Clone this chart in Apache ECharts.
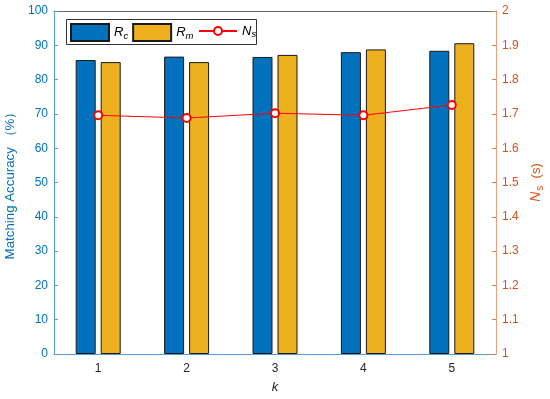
<!DOCTYPE html>
<html><head><meta charset="utf-8">
<script src="https://cdn.jsdelivr.net/npm/echarts@6/dist/echarts.min.js"></script>
<style>html,body{margin:0;padding:0;background:#fff}#c{width:550px;height:399px}</style>
</head><body><div id="c"></div>
<script>
const categories = ['1','2','3','4','5'];
const rc = [85.7, 86.7, 86.6, 88.0, 88.4];
const rm = [85.1, 85.1, 87.2, 88.8, 90.6];
const ns = [1.696, 1.688, 1.702, 1.696, 1.726];
const leftTicks = {min: 0, max: 100, interval: 10};
const rightTicks = {min: 1, max: 2, interval: 0.1};

const FONT = '"Liberation Sans", Arial, sans-serif';
const chart = echarts.init(document.getElementById('c'), null, {renderer: 'canvas'});
const legendRich = {
  i: {fontStyle: 'italic', fontSize: 13, fontFamily: FONT, color: '#000'},
  s: {fontStyle: 'italic', fontSize: 9.5, fontFamily: FONT, color: '#000', padding: [7, 0, 0, 0]}
};
const fmt = function (n) { return '{i|' + n[0] + '}{s|' + n.slice(1) + '}'; };
chart.setOption({
  animation: false,
  grid: {left: 54, right: 54, top: 11, bottom: 45, containLabel: false, outerBoundsMode: 'none'},
  graphic: [{
    type: 'rect', left: 66, top: 19, z: 90,
    shape: {width: 190, height: 25},
    style: {fill: '#fff', stroke: '#333', lineWidth: 1}
  }],
  legend: [{
    left: 70, top: 23, orient: 'horizontal', z: 100,
    itemWidth: 38, itemHeight: 17, itemGap: 4, padding: 0,
    icon: 'rect',
    data: ['Rc', 'Rm'],
    formatter: fmt,
    textStyle: {rich: legendRich}
  }, {
    left: 198, top: 24.5, orient: 'horizontal', z: 100,
    itemWidth: 38, itemHeight: 10, itemGap: 4, padding: 0,
    data: ['Ns'],
    formatter: fmt,
    textStyle: {rich: legendRich}
  }],
  xAxis: [{
    type: 'category', data: categories, position: 'bottom',
    name: 'k', nameLocation: 'middle', nameGap: 27,
    nameTextStyle: {fontStyle: 'italic', fontSize: 13, color: '#262626', fontFamily: FONT},
    axisLine: {lineStyle: {color: '#5a9bd5', width: 1}},
    axisTick: {alignWithLabel: true, inside: true, length: 4, lineStyle: {color: '#555'}},
    axisLabel: {color: '#262626', fontSize: 12, fontFamily: FONT, margin: 9}
  }, {
    type: 'category', data: categories, position: 'top',
    axisLine: {lineStyle: {color: '#6b6b6b', width: 1}},
    axisTick: {alignWithLabel: true, inside: true, length: 4, lineStyle: {color: '#555'}},
    axisLabel: {show: false}
  }],
  yAxis: [{
    type: 'value', position: 'left', min: leftTicks.min, max: leftTicks.max, interval: leftTicks.interval,
    name: 'Matching Accuracy （%）', nameLocation: 'middle', nameGap: 33,
    nameTextStyle: {color: '#0072BD', fontSize: 13.3, fontFamily: FONT},
    axisLine: {show: true, lineStyle: {color: '#5a9bd5', width: 1}},
    axisTick: {show: true, inside: true, length: 4, lineStyle: {color: '#5a9bd5'}},
    axisLabel: {color: '#0072BD', fontSize: 12, fontFamily: FONT, margin: 6},
    splitLine: {show: false}
  }, {
    type: 'value', position: 'right', min: rightTicks.min, max: rightTicks.max, interval: rightTicks.interval,
    name: '{i|N}{s|s}{n|  (s)}', nameLocation: 'middle', nameGap: 31, nameRotate: 90,
    nameTextStyle: {
      color: '#D95319', fontSize: 13, fontFamily: FONT,
      rich: {
        i: {fontStyle: 'italic', fontSize: 14, color: '#D95319', fontFamily: FONT},
        s: {fontSize: 10, color: '#D95319', fontFamily: FONT, padding: [8, 0, 0, 1]},
        n: {fontSize: 13, color: '#D95319', fontFamily: FONT}
      }
    },
    axisLine: {show: true, lineStyle: {color: '#eea07c', width: 1}},
    axisTick: {show: true, inside: true, length: 4, lineStyle: {color: '#e07a4a'}},
    axisLabel: {color: '#D95319', fontSize: 12, fontFamily: FONT, margin: 6,
      formatter: function (v) { return (Math.round(v * 10) / 10).toString(); }},
    splitLine: {show: false}
  }],
  series: [{
    name: 'Rc', type: 'bar', data: rc, barWidth: 20, barGap: '25%', xAxisIndex: 0, yAxisIndex: 0,
    itemStyle: {color: '#0072BD', borderColor: '#1a1a1a', borderWidth: 1}
  }, {
    name: 'Rm', type: 'bar', data: rm, barWidth: 20, xAxisIndex: 0, yAxisIndex: 0,
    itemStyle: {color: '#EDB120', borderColor: '#1a1a1a', borderWidth: 1}
  }, {
    name: 'Ns', type: 'line', data: ns, xAxisIndex: 0, yAxisIndex: 1,
    symbol: 'emptyCircle', symbolSize: 8,
    lineStyle: {color: '#FF0000', width: 1},
    itemStyle: {color: '#FF0000', borderColor: '#FF0000', borderWidth: 1.5}
  }]
});
</script></body></html>
